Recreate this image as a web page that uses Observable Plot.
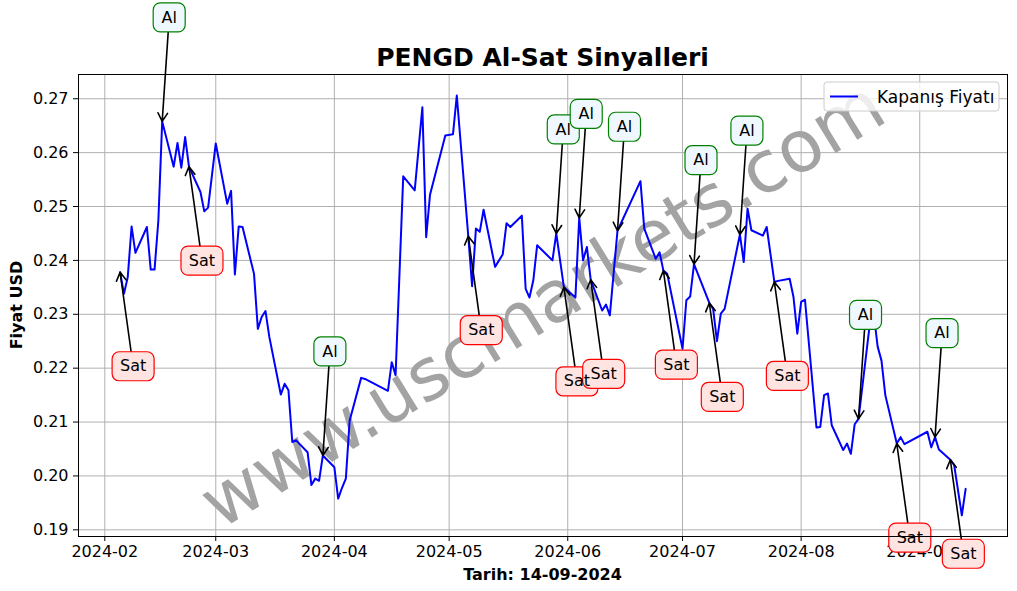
<!DOCTYPE html>
<html><head><meta charset="utf-8">
<script src="https://cdn.jsdelivr.net/npm/d3@7"></script>
<script src="https://cdn.jsdelivr.net/npm/@observablehq/plot@0.6"></script>
<style>html,body{margin:0;padding:0;background:#fff;overflow:hidden}</style>
</head><body><div id="chart"></div>
<script>
const dates = ["2024-02-05","2024-02-06","2024-02-07","2024-02-08","2024-02-09","2024-02-12","2024-02-13","2024-02-14","2024-02-15","2024-02-16",
"2024-02-19","2024-02-20","2024-02-21","2024-02-22","2024-02-23","2024-02-26","2024-02-27","2024-02-28","2024-03-01","2024-03-04",
"2024-03-05","2024-03-06","2024-03-07","2024-03-08","2024-03-11","2024-03-12","2024-03-13","2024-03-14","2024-03-15","2024-03-18",
"2024-03-19","2024-03-20","2024-03-21","2024-03-22","2024-03-25","2024-03-26","2024-03-27","2024-03-28","2024-03-29","2024-04-01",
"2024-04-02","2024-04-03","2024-04-04","2024-04-05","2024-04-08","2024-04-09","2024-04-15","2024-04-16","2024-04-17","2024-04-19",
"2024-04-22","2024-04-24","2024-04-25","2024-04-26","2024-04-30","2024-05-02","2024-05-03","2024-05-06","2024-05-07","2024-05-08",
"2024-05-09","2024-05-10","2024-05-13","2024-05-15","2024-05-16","2024-05-17","2024-05-20","2024-05-21","2024-05-22","2024-05-23",
"2024-05-24","2024-05-28","2024-05-29","2024-05-31","2024-06-03","2024-06-04","2024-06-05","2024-06-06","2024-06-07","2024-06-10",
"2024-06-11","2024-06-12","2024-06-14","2024-06-20","2024-06-21","2024-06-24","2024-06-25","2024-06-26","2024-06-27","2024-07-01",
"2024-07-02","2024-07-03","2024-07-04","2024-07-08","2024-07-09","2024-07-10","2024-07-11","2024-07-12","2024-07-16","2024-07-17",
"2024-07-18","2024-07-19","2024-07-22","2024-07-23","2024-07-25","2024-07-26","2024-07-29","2024-07-30","2024-07-31","2024-08-01",
"2024-08-02","2024-08-05","2024-08-06","2024-08-07","2024-08-08","2024-08-09","2024-08-12","2024-08-13","2024-08-14","2024-08-15",
"2024-08-16","2024-08-19","2024-08-20","2024-08-21","2024-08-22","2024-08-23","2024-08-26","2024-08-27","2024-08-28","2024-09-03",
"2024-09-04","2024-09-05","2024-09-06","2024-09-09","2024-09-10","2024-09-12","2024-09-13"];
const closes = [0.2378,0.2338,0.2369,0.2463,0.2414,0.2462,0.2383,0.2383,0.2474,0.2658,
0.2574,0.2618,0.2572,0.2629,0.2574,0.2527,0.2491,0.2498,0.2617,0.2505,
0.2529,0.2374,0.2463,0.2462,0.2375,0.2273,0.2295,0.2306,0.2258,0.2151,
0.2171,0.2159,0.2063,0.2066,0.2044,0.1983,0.1995,0.1991,0.2038,0.2016,
0.1958,0.1978,0.1995,0.2103,0.2182,0.2180,0.2158,0.2211,0.2187,0.2556,
0.2530,0.2684,0.2443,0.2522,0.2632,0.2634,0.2706,0.2445,0.2352,0.2459,
0.2453,0.2494,0.2388,0.2411,0.2469,0.2462,0.2483,0.2347,0.2331,0.2363,
0.2428,0.2400,0.2450,0.2350,0.2331,0.2479,0.2400,0.2425,0.2364,0.2307,
0.2318,0.2298,0.2455,0.2547,0.2459,0.2403,0.2415,0.2381,0.2375,0.2236,
0.2326,0.2333,0.2393,0.2321,0.2310,0.2250,0.2301,0.2310,0.2448,0.2397,
0.2496,0.2456,0.2446,0.2462,0.2360,0.2362,0.2366,0.2332,0.2264,0.2323,
0.2327,0.2090,0.2091,0.2150,0.2153,0.2094,0.2048,0.2060,0.2041,0.2096,
0.2106,0.2285,0.2300,0.2240,0.2214,0.2150,0.2060,0.2072,0.2059,0.2082,
0.2053,0.2072,0.2049,0.2030,0.2020,0.1927,0.1976];
const buyDates = ["2024-02-16","2024-03-29","2024-05-29","2024-06-04","2024-06-14","2024-07-04","2024-07-16","2024-08-16","2024-09-05"];
const sellDates = ["2024-02-05","2024-02-23","2024-05-06","2024-05-31","2024-06-07","2024-06-26","2024-07-08","2024-07-25","2024-08-26","2024-09-09"];
const monthTicks = ["2024-02-01","2024-03-01","2024-04-01","2024-05-01","2024-06-01","2024-07-01","2024-08-01","2024-09-01"];
const yTicks = [0.19,0.20,0.21,0.22,0.23,0.24,0.25,0.26,0.27];
const titleText = "PENGD Al-Sat Sinyalleri";
const xLabel = "Tarih: 14-09-2024";
const yLabel = "Fiyat USD";
const legendLabel = "Kapanış Fiyatı";
const watermark = "www.uscmarkets.com";

const W = 1017, H = 591, ML = 78, MR = 10, MT = 74, MB = 55;
const parse = d3.utcParse("%Y-%m-%d");
const series = dates.map((d, i) => ({date: parse(d), close: closes[i]}));
const byDate = new Map(series.map(d => [+d.date, d.close]));
const xDomain = [new Date(Date.UTC(2024, 0, 25, 3)), new Date(Date.UTC(2024, 8, 23, 22, 30))];
const yDomain = [0.18876, 0.2745];
const pxPerMs = (W - ML - MR) / (xDomain[1] - xDomain[0]);
const pxPerUnit = (H - MT - MB) / (yDomain[1] - yDomain[0]);

const SAT = {dx: 13, dy: 94}, AL = {dx: 7, dy: -104};
function sig(list, off) {
  return list.map(s => {
    const date = parse(s), close = byDate.get(+date);
    return {date, close, x1: new Date(+date + off.dx / pxPerMs), y1: close - off.dy / pxPerUnit};
  });
}
const sells = sig(sellDates, SAT);
const buys = sig(buyDates, AL);

function roundRect(w, h, r) {
  return {draw(ctx) {
    const x0 = -w/2, y0 = -h/2, x1 = w/2, y1 = h/2;
    ctx.moveTo(x0 + r, y0); ctx.lineTo(x1 - r, y0); ctx.arcTo(x1, y0, x1, y0 + r, r);
    ctx.lineTo(x1, y1 - r); ctx.arcTo(x1, y1, x1 - r, y1, r);
    ctx.lineTo(x0 + r, y1); ctx.arcTo(x0, y1, x0, y1 - r, r);
    ctx.lineTo(x0, y0 + r); ctx.arcTo(x0, y0, x0 + r, y0, r); ctx.closePath();
  }};
}

const chart = Plot.plot({
  width: W, height: H,
  marginLeft: ML, marginRight: MR, marginTop: MT, marginBottom: MB,
  style: {fontFamily: "DejaVu Sans", fontSize: "16px", background: "white", color: "black"},
  x: {type: "utc", domain: xDomain, ticks: monthTicks.map(parse), tickFormat: d3.utcFormat("%Y-%m"), tickSize: 5, tickPadding: 4, label: null},
  y: {domain: yDomain, ticks: yTicks, tickFormat: d3.format(".2f"), tickSize: 5, tickPadding: 5, label: null},
  marks: [
    Plot.ruleX(monthTicks.map(parse), {stroke: "#b0b0b0", strokeWidth: 1}),
    Plot.ruleY(yTicks, {stroke: "#b0b0b0", strokeWidth: 1}),
    Plot.text([watermark], {text: d => d, frameAnchor: "middle", rotate: -31.5, fontSize: 72, fill: "#a3a3a3"}),
    Plot.line(series, {x: "date", y: "close", stroke: "#0000ff", strokeWidth: 2}),
    Plot.arrow(sells, {x1: "x1", y1: "y1", x2: "date", y2: "close", stroke: "black", strokeWidth: 1.6, headLength: 9}),
    Plot.arrow(buys, {x1: "x1", y1: "y1", x2: "date", y2: "close", stroke: "black", strokeWidth: 1.6, headLength: 9}),
    Plot.dot(sells, {x: "date", y: "close", dx: SAT.dx, dy: SAT.dy, r: 10, symbol: roundRect(42, 29, 7), fill: "#ffe4e1", stroke: "red", strokeWidth: 1.2}),
    Plot.text(sells, {x: "date", y: "close", dx: SAT.dx, dy: SAT.dy, text: () => "Sat", fontSize: 16, fill: "black"}),
    Plot.dot(buys, {x: "date", y: "close", dx: AL.dx, dy: AL.dy, r: 10, symbol: roundRect(32, 29, 7), fill: "#f0f8ff", stroke: "green", strokeWidth: 1.2}),
    Plot.text(buys, {x: "date", y: "close", dx: AL.dx, dy: AL.dy, text: () => "Al", fontSize: 16, fill: "black"}),
    Plot.frame({stroke: "black", strokeWidth: 1})
  ]
});

const svg = d3.select(chart);
svg.append("text").attr("x", (ML + W - MR) / 2).attr("y", 66).attr("text-anchor", "middle")
  .attr("font-size", 25).attr("font-weight", "bold").attr("fill", "black").text(titleText);
svg.append("text").attr("x", (ML + W - MR) / 2).attr("y", 580).attr("text-anchor", "middle")
  .attr("font-size", 16).attr("font-weight", "bold").attr("fill", "black").text(xLabel);
svg.append("text").attr("transform", `translate(22,${(MT + H - MB) / 2}) rotate(-90)`).attr("text-anchor", "middle")
  .attr("font-size", 16).attr("font-weight", "bold").attr("fill", "black").text(yLabel);
const lg = svg.append("g");
lg.append("rect").attr("x", 824).attr("y", 82).attr("width", 175).attr("height", 29).attr("rx", 3)
  .attr("fill", "white").attr("fill-opacity", 0.8).attr("stroke", "#cccccc");
lg.append("line").attr("x1", 830).attr("x2", 858).attr("y1", 96.5).attr("y2", 96.5).attr("stroke", "#0000ff").attr("stroke-width", 2);
lg.append("text").attr("x", 877).attr("y", 102.5).attr("text-anchor", "start").attr("font-size", 17).attr("fill", "black").text(legendLabel);

document.getElementById("chart").appendChild(chart);
</script></body></html>
